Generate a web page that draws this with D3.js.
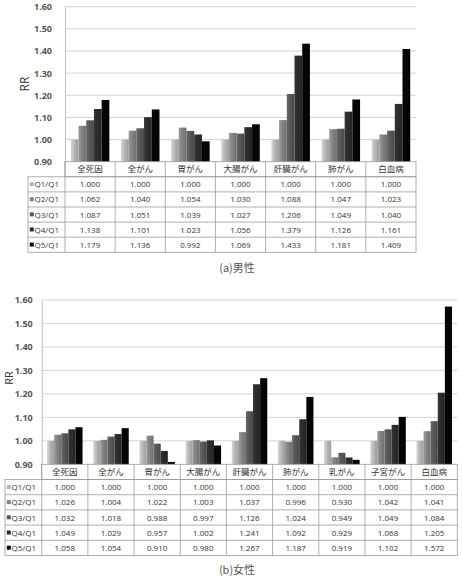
<!DOCTYPE html>
<html>
<head>
<meta charset="utf-8">
<script src="https://cdn.jsdelivr.net/npm/d3@7"></script>
<style>
  body { margin: 0; background: #fff; }
  svg { display: block; font-family: "Noto Sans CJK JP", "Noto Sans", sans-serif; }
</style>
</head>
<body>
<svg id="chart" width="462" height="586"></svg>
<script>
// ---- data ----
var seriesNames = ["Q1/Q1", "Q2/Q1", "Q3/Q1", "Q4/Q1", "Q5/Q1"];
var seriesColors = ["#b4b4b4", "#808080", "#555555", "#2b2b2b", "#050505"];
var yTicks = [0.90, 1.00, 1.10, 1.20, 1.30, 1.40, 1.50, 1.60];

var maleCats = ["全死因", "全がん", "胃がん", "大腸がん", "肝臓がん", "肺がん", "白血病"];
var maleQ1 = [1.000, 1.000, 1.000, 1.000, 1.000, 1.000, 1.000];
var maleQ2 = [1.062, 1.040, 1.054, 1.030, 1.088, 1.047, 1.023];
var maleQ3 = [1.087, 1.051, 1.039, 1.027, 1.206, 1.049, 1.040];
var maleQ4 = [1.138, 1.101, 1.023, 1.056, 1.379, 1.126, 1.161];
var maleQ5 = [1.179, 1.136, 0.992, 1.069, 1.433, 1.181, 1.409];

var femaleCats = ["全死因", "全がん", "胃がん", "大腸がん", "肝臓がん", "肺がん", "乳がん", "子宮がん", "白血病"];
var femaleQ1 = [1.000, 1.000, 1.000, 1.000, 1.000, 1.000, 1.000, 1.000, 1.000];
var femaleQ2 = [1.026, 1.004, 1.022, 1.003, 1.037, 0.996, 0.930, 1.042, 1.041];
var femaleQ3 = [1.032, 1.018, 0.988, 0.997, 1.126, 1.024, 0.949, 1.049, 1.084];
var femaleQ4 = [1.049, 1.029, 0.957, 1.002, 1.241, 1.092, 0.929, 1.068, 1.205];
var femaleQ5 = [1.058, 1.054, 0.910, 0.980, 1.267, 1.187, 0.919, 1.102, 1.572];

var svg = d3.select("#chart")

// gradients for the bars (Excel-like shading)
var defs = svg.append("defs")
seriesColors.forEach(function (c, i) {
  var g = defs.append("linearGradient").attr("id", "grad" + i)
    .attr("x1", "0%").attr("x2", "100%").attr("y1", "0%").attr("y2", "0%")
  g.append("stop").attr("offset", "0%").attr("stop-color", d3.color(c).brighter(0.5))
  g.append("stop").attr("offset", "50%").attr("stop-color", c)
  g.append("stop").attr("offset", "100%").attr("stop-color", d3.color(c).darker(0.4))
})

function drawPanel(p) {
  var rows = p.rows
  var y = d3.scaleLinear().domain([0.9, 1.6]).range([p.bottom, p.top])
  var x = d3.scaleBand().domain(p.cats).range([p.left, p.right])
  var xs = d3.scaleBand().domain(seriesNames).range([0, x.bandwidth()]).paddingOuter(0.75)

  // gridlines
  svg.append("g").selectAll("line").data(yTicks.slice(1)).enter().append("line")
    .attr("x1", p.left).attr("x2", p.right)
    .attr("y1", function (d) { return y(d) }).attr("y2", function (d) { return y(d) })
    .style("stroke", "#d4d4d4").style("stroke-width", 1)

  // y axis
  var ax = svg.append("g").attr("transform", "translate(" + p.left + ",0)")
    .call(d3.axisLeft(y).tickValues(yTicks).tickFormat(d3.format(".2f")).tickSize(0).tickPadding(p.tickPad))
  ax.select(".domain").style("stroke", "#bdbdbd")
  ax.selectAll("text").style("font-size", "9px").style("font-weight", "bold").style("fill", "#555")
    .style("font-family", "'Open Sans', sans-serif")

  svg.append("text")
    .attr("transform", "translate(" + p.rrX + "," + p.rrY + ")rotate(-90)")
    .attr("text-anchor", "middle")
    .style("font-size", p.rrSize).style("fill", "#333")
    .style("font-family", "'Open Sans', sans-serif")
    .text("RR")

  // bars
  rows.forEach(function (vals, si) {
    svg.append("g").selectAll("rect").data(vals).enter().append("rect")
      .attr("x", function (d, i) { return x(p.cats[i]) + xs(seriesNames[si]) })
      .attr("width", xs.bandwidth())
      .attr("y", function (d) { return y(Math.max(d, 0.9)) })
      .attr("height", function (d) { return y(0.9) - y(Math.max(d, 0.9)) })
      .style("fill", "url(#grad" + si + ")")
  })

  // data table
  var rowH = p.rowH
  var tTop = p.bottom
  var tb = svg.append("g").style("fill", "none").style("stroke", "#9a9a9a").style("stroke-width", 0.8)
  // header row
  tb.append("rect").attr("x", p.left).attr("y", tTop).attr("width", p.right - p.left).attr("height", rowH)
  // body
  tb.append("rect").attr("x", p.legLeft).attr("y", tTop + rowH).attr("width", p.right - p.legLeft).attr("height", rowH * 5)
  for (var r = 1; r < 5; r++) {
    tb.append("line").attr("x1", p.legLeft).attr("x2", p.right)
      .attr("y1", tTop + rowH * (r + 1)).attr("y2", tTop + rowH * (r + 1))
  }
  tb.append("line").attr("x1", p.left).attr("x2", p.left).attr("y1", tTop).attr("y2", tTop + rowH * 6)
  p.cats.forEach(function (c, i) {
    if (i == 0) return
    tb.append("line").attr("x1", x(c)).attr("x2", x(c)).attr("y1", tTop).attr("y2", tTop + rowH * 6)
  })

  svg.append("g").selectAll("text").data(p.cats).enter().append("text")
    .attr("x", function (d) { return x(d) + x.bandwidth() / 2 })
    .attr("y", tTop + rowH / 2 + 3)
    .attr("text-anchor", "middle")
    .style("font-size", "8.5px").style("fill", "#333")
    .text(function (d) { return d })

  rows.forEach(function (vals, si) {
    var ry = tTop + rowH * (si + 1)
    svg.append("rect").attr("x", p.legLeft + 1.8).attr("y", ry + rowH / 2 - 2.2)
      .attr("width", 4).attr("height", 4).style("fill", seriesColors[si])
    svg.append("text").attr("x", p.legLeft + 6.5).attr("y", ry + rowH / 2 + 3)
      .style("font-size", "8px").style("fill", "#333")
      .style("font-family", "'Open Sans', sans-serif")
      .text(seriesNames[si])
    svg.append("g").selectAll("text").data(vals).enter().append("text")
      .attr("x", function (d, i) { return x(p.cats[i]) + x.bandwidth() / 2 })
      .attr("y", ry + rowH / 2 + 3)
      .attr("text-anchor", "middle")
      .style("font-size", "8px").style("fill", "#333")
      .style("font-family", "'Open Sans', sans-serif")
      .text(function (d) { return d3.format(".3f")(d) })
  })

  svg.append("text")
    .attr("x", 237).attr("y", p.capY)
    .attr("text-anchor", "middle")
    .style("font-size", "11px").style("fill", "#555")
    .text(p.caption)
}

drawPanel({
  cats: maleCats, rows: [maleQ1, maleQ2, maleQ3, maleQ4, maleQ5],
  left: 65, right: 416, top: 6.7, bottom: 161.7, legLeft: 28, rowH: 15.1,
  tickPad: 13, rrX: 29, rrY: 84, rrSize: "12px", capY: 272, caption: "(a)男性"
})

drawPanel({
  cats: femaleCats, rows: [femaleQ1, femaleQ2, femaleQ3, femaleQ4, femaleQ5],
  left: 41.7, right: 457.3, top: 300, bottom: 464.3, legLeft: 5, rowH: 15.2,
  tickPad: 9, rrX: 13, rrY: 378, rrSize: "11px", capY: 574, caption: "(b)女性"
})
</script>
</body>
</html>
